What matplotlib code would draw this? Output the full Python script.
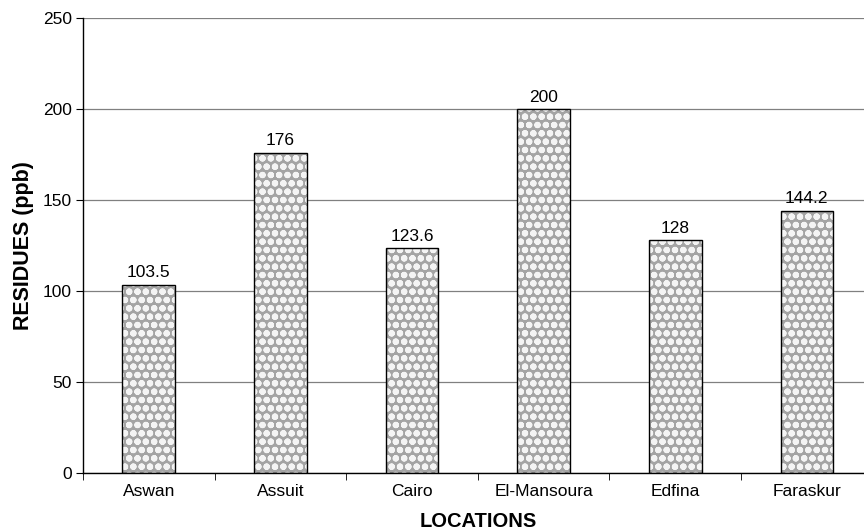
import matplotlib
matplotlib.use("Agg")
import matplotlib.pyplot as plt
import numpy as np

locations = ["Aswan", "Assuit", "Cairo", "El-Mansoura", "Edfina", "Faraskur"]
residues = [103.5, 176, 123.6, 200, 128, 144.2]
labels = ["103.5", "176", "123.6", "200", "128", "144.2"]
yticks = [0, 50, 100, 150, 200, 250]

plt.rcParams['font.family'] = ['Liberation Sans', 'DejaVu Sans']
plt.rcParams['hatch.linewidth'] = 2.2

fig = plt.figure(figsize=(8.64, 5.32), dpi=100)
ax = fig.add_axes([0.096, 0.111, 0.914, 0.855])

x = np.arange(len(locations))
ax.bar(x, residues, width=0.4, color='#a4a4a4', edgecolor='#f4f4f4', hatch='oo', linewidth=0, zorder=2)
ax.bar(x, residues, width=0.4, fill=False, edgecolor='black', linewidth=1.0, zorder=3)

for xi, v, t in zip(x, residues, labels):
    ax.text(xi, v + 2.5, t, ha='center', va='bottom', fontsize=12.5)

ax.set_xlim(-0.5, len(locations) - 0.5)
ax.set_ylim(0, 250)
ax.set_yticks(yticks)
ax.yaxis.grid(True, color='#808080', linewidth=0.9, zorder=0)
ax.set_axisbelow(True)
ax.set_xticks(x)
ax.set_xticklabels(locations, fontsize=12.5)
ax.tick_params(axis='x', which='major', length=0, pad=8)
ax.set_xticks(np.arange(len(locations) + 1) - 0.5, minor=True)
ax.tick_params(axis='x', which='minor', length=5, direction='out')
ax.tick_params(axis='y', length=5, labelsize=12.5, direction='out', pad=3)

for s in ['top', 'right']:
    ax.spines[s].set_visible(False)
ax.spines['left'].set_linewidth(1.0)
ax.spines['bottom'].set_linewidth(1.0)

ax.set_ylabel("RESIDUES (ppb)", fontsize=15.5, fontweight='bold', labelpad=6)
ax.set_xlabel("LOCATIONS", fontsize=14.5, fontweight='bold', labelpad=9)

fig.savefig("out.png", dpi=100)
